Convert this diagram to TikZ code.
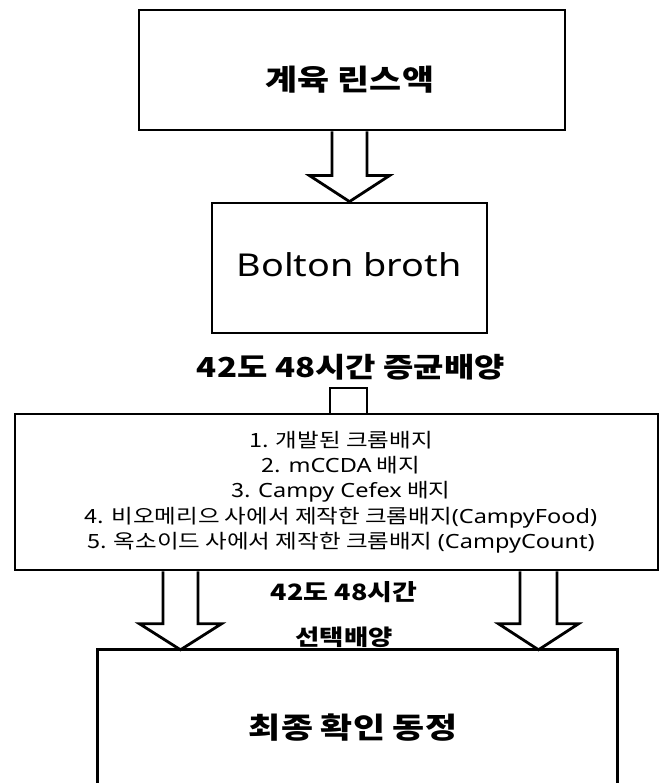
\documentclass[tikz,border=0pt]{standalone}
\usepackage{fontspec}
\newfontfamily\krfont{Noto Sans CJK KR}[FakeStretch=1.2]
\newfontfamily\latfont{Noto Sans}[FakeStretch=1.2]
\newcommand\la[1]{{\latfont #1}}
\usetikzlibrary{calc}
\tikzset{
  boxst/.style={draw=black, line width=2.8pt, fill=white, inner sep=0pt},
  arr/.style={draw=black, line width=2.8pt, fill=white, line join=miter},
  boldlab/.style={font=\krfont\bfseries, inner sep=0pt, text=black},
  itemtxt/.style={font=\krfont\fontsize{19.6}{25.3}\selectfont, align=center, inner sep=0pt}
}
\begin{document}
\begin{tikzpicture}[x=1pt,y=1pt]
\useasboundingbox (0,0) rectangle (660,783);
\clip (0,0) rectangle (660,783);
\fill[white] (0,0) rectangle (660,783);

% boxes
\node[boxst, minimum width=426pt, minimum height=120pt] (b1) at (352,713) {};
\node[boxst, minimum width=275pt, minimum height=130pt] (b2) at (349.5,515) {};
\node[draw=none, minimum width=519pt, minimum height=143pt, inner sep=0pt] (b4) at (357.5,61.5) {};

% coordinates for arrow axes
\coordinate (s2) at (348.5,395);
\coordinate (l3) at (180.5,0);
\coordinate (r3) at (538.5,0);

% arrow 1: b1 -> b2
\draw[arr] ($(b1.south -| b2.north)+(-17.5,0)$) -- ($(b2.north)+(-17.5,26)$) -- ($(b2.north)+(-40,26)$)
  -- (b2.north) -- ($(b2.north)+(40,26)$) -- ($(b2.north)+(17.5,26)$) -- ($(b1.south -| b2.north)+(17.5,0)$);

% stub arrow into box 3 (head hidden by box 3)
\draw[arr] ($(s2)+(-18.5,-40)$) |- ($(s2)+(18.5,0)$) -- ($(s2)+(18.5,-40)$);

% box 3 (drawn over the stub)
\node[boxst, minimum width=643pt, minimum height=156pt] (b3) at (336.5,291) {};

% arrows 3: b3 -> b4
\draw[arr] ($(b3.south -| l3)+(-17.5,0)$) -- ($(b4.north -| l3)+(-17.5,26)$) -- ($(b4.north -| l3)+(-41,26)$)
  -- (b4.north -| l3) -- ($(b4.north -| l3)+(41,26)$) -- ($(b4.north -| l3)+(17.5,26)$) -- ($(b3.south -| l3)+(17.5,0)$);
\draw[arr] ($(b3.south -| r3)+(-18.5,0)$) -- ($(b4.north -| r3)+(-18.5,26)$) -- ($(b4.north -| r3)+(-40,26)$)
  -- (b4.north -| r3) -- ($(b4.north -| r3)+(40,26)$) -- ($(b4.north -| r3)+(18.5,26)$) -- ($(b3.south -| r3)+(18.5,0)$);

% box 4 (open at the bottom)
\draw[line width=2.8pt] (b4.south west) -- (b4.north west) -- (b4.north east) -- (b4.south east);

% texts
\node[boldlab, font=\krfont\bfseries\fontsize{29}{34}\selectfont] (t1) at (350,703) {계육 린스액};
\node[inner sep=0pt, anchor=base, font=\latfont\fontsize{31.5}{36}\selectfont] (t2) at (349,506) {Bolton broth};
\node[boldlab, font=\krfont\bfseries\fontsize{27.5}{32}\selectfont] (t3) at (351,416) {42도 48시간 증균배양};
\node[itemtxt] (t4) at (341,291) {1. 개발된 크롬배지\\
2. \la{mCCDA} 배지\\
3. \la{Campy Cefex} 배지\\
4. 비오메리으 사에서 제작한 크롬배지\la{(CampyFood)}\\
5. 옥소이드 사에서 제작한 크롬배지 \la{(CampyCount)}};
\node[boldlab, font=\krfont\bfseries\fontsize{22.5}{27}\selectfont] (t5) at (344,191) {42도 48시간};
\node[boldlab, font=\krfont\bfseries\fontsize{22}{26}\selectfont] (t6) at (344,146) {선택배양};
\node[boldlab, font=\krfont\bfseries\fontsize{29}{34}\selectfont] (t7) at (353,55) {최종 확인 동정};
\end{tikzpicture}
\end{document}
